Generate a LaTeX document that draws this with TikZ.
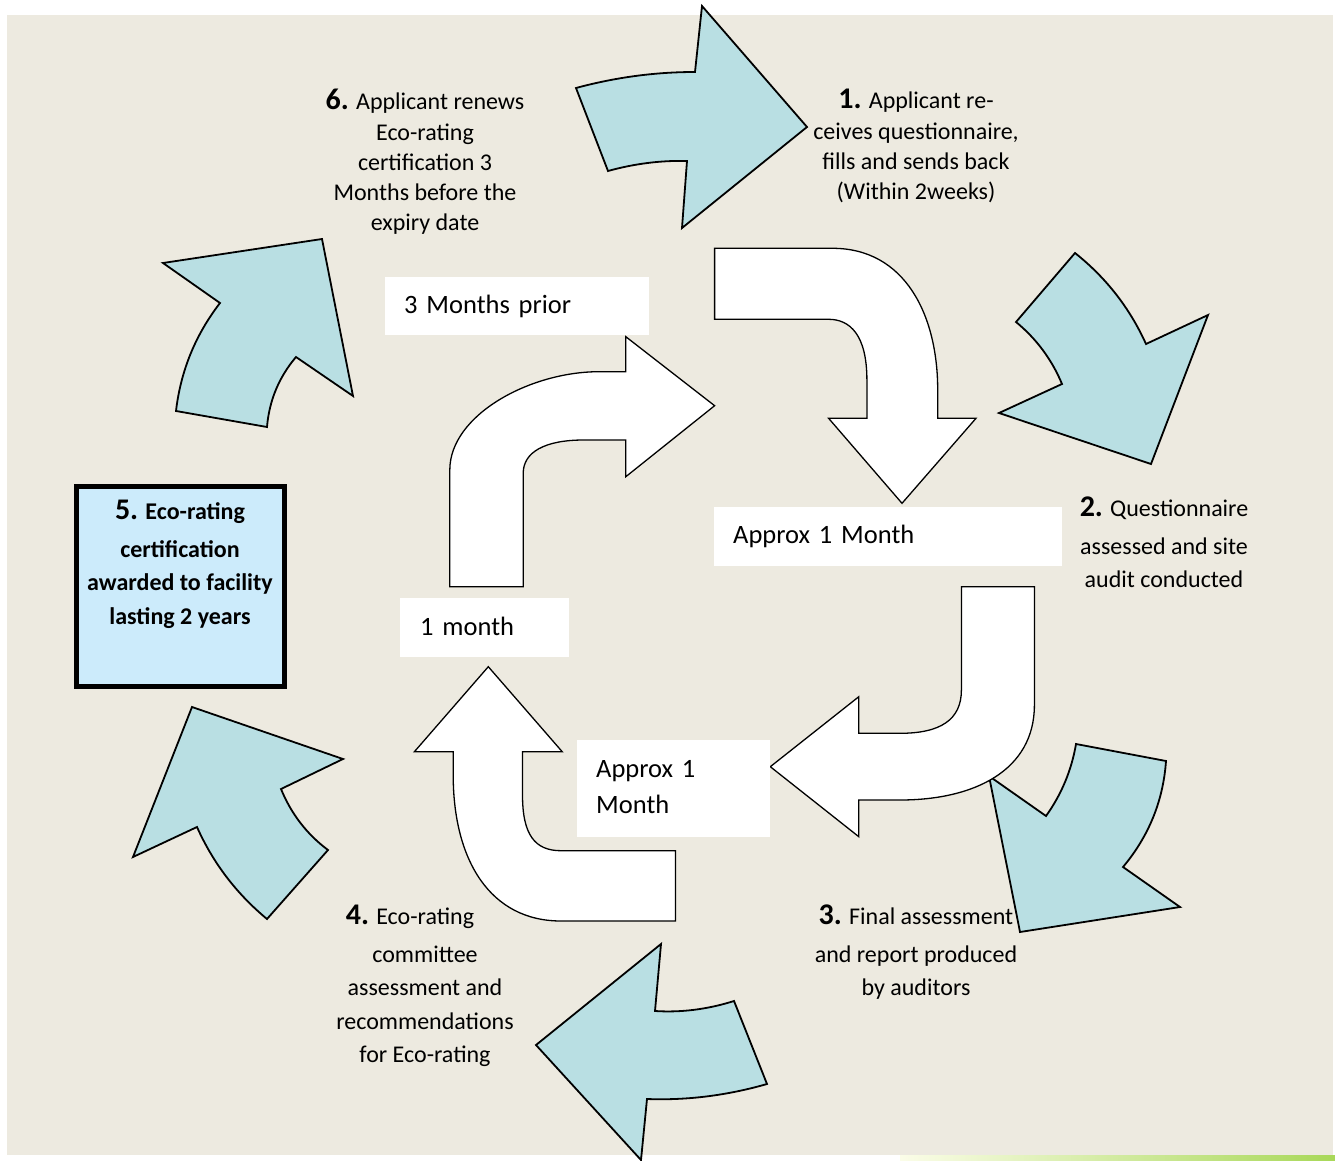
\documentclass[tikz,border=0pt]{standalone}
\usepackage{fontspec}
\setmainfont{Carlito}
\definecolor{bgbeige}{HTML}{EDEAE0}
\definecolor{arrowblue}{HTML}{B9DFE3}
\definecolor{boxblue}{HTML}{CCEBFB}
\definecolor{stripstart}{HTML}{FBFDE8}
\definecolor{stripend}{HTML}{A8D858}
\begin{document}
\begin{tikzpicture}[x=1pt,y=-1pt,
  bluearrow/.style={fill=arrowblue, draw=black, line width=1.8pt, line join=miter},
  whitearrow/.style={fill=white, draw=black, line width=1.3pt, line join=miter},
  labelbox/.style={fill=white, anchor=north west, align=left, inner ysep=0pt, font=\fontsize{26.5}{36}\selectfont},
  steptext/.style={align=center, inner sep=0pt, anchor=north, font=\fontsize{24}{30}\selectfont},
  steptextlow/.style={align=center, inner sep=0pt, anchor=north, font=\fontsize{24}{33.5}\selectfont}]
\useasboundingbox (0,0) rectangle (1335,1161);
% background
\fill[white] (0,0) rectangle (1335,1161);
\fill[bgbeige] (7,15) rectangle (1333,1155);
\fill[left color=stripstart, right color=stripend] (900,1155) rectangle (1335,1161);

% blue curved arrows
\path[bluearrow] (576,88) .. controls (615.2,77.4) and (654.8,72.0) .. (695,72) -- (702,6) -- (807,127) -- (682,228) -- (687,161) .. controls (660.7,160.3) and (634.3,163.7) .. (608,171) -- cycle;
\path[bluearrow] (1075,253) .. controls (1106.2,277.8) and (1129.8,308.2) .. (1146,344) -- (1208,315) -- (1151,464) -- (999,413) -- (1062,384) .. controls (1051.7,359.3) and (1036.3,338.7) .. (1016,322) -- cycle;
\path[bluearrow] (1076,744) -- (1166,761) .. controls (1163.2,800.8) and (1148.8,836.2) .. (1123,867) -- (1180,907) -- (1020,932) -- (989,776) -- (1046,816) .. controls (1061.5,794.3) and (1071.5,770.3) .. (1076,744) -- cycle;
\path[bluearrow] (734,1001) -- (767,1084) .. controls (727,1095.5) and (687,1100.5) .. (647,1099) -- (641,1160) -- (536,1045) -- (661,944) -- (655,1011) .. controls (681.3,1012.7) and (707.7,1009.3) .. (734,1001) -- cycle;
\path[bluearrow] (192,707) -- (343,759) -- (281,789) .. controls (291.2,813.8) and (306.8,834.2) .. (328,850) -- (267,919) .. controls (236.5,893.7) and (213.1,863.1) .. (197,827) -- (133,857) -- cycle;
\path[bluearrow] (163,263) -- (322,239) -- (353,396) -- (296,357) .. controls (278.8,377.3) and (269.2,400.7) .. (267,427) -- (176,411) .. controls (180.7,371) and (195.3,335) .. (220,303) -- cycle;

% white bent arrows
\path[whitearrow] (449.8,586.7) -- (449.8,470) .. controls (449.8,415) and (530,371.7) .. (599,371.7) -- (625.8,371.7) -- (625.8,336.7) -- (714.6,405.7) -- (625.8,476.7) -- (625.8,440) -- (583.7,440) .. controls (545,440) and (523.2,452) .. (523.2,473.3) -- (523.2,586.7) -- cycle;
\path[whitearrow] (714.6,248.3) -- (832.5,248.3) .. controls (905,248.3) and (937.7,315) .. (937.7,390) -- (937.7,418.3) -- (976,418.3) -- (902,503.3) -- (828.6,418.3) -- (866.9,418.3) -- (866.9,380) .. controls (866.9,335) and (850,319.3) .. (828.6,319.3) -- (714.6,319.3) -- cycle;
\path[whitearrow] (961.4,586.7) -- (1034.4,586.7) -- (1034.4,705) .. controls (1034.4,770) and (975,800) .. (900,800) -- (858.8,800) -- (858.8,836.7) -- (770.3,766.7) -- (858.8,696.7) -- (858.8,733.3) -- (900,733.3) .. controls (940,733.3) and (961.4,720) .. (961.4,690) -- cycle;
\path[whitearrow] (675.5,921) -- (675.5,850.7) -- (561,850.7) .. controls (535,850.7) and (522.5,835) .. (522.5,795) -- (522.5,751.7) -- (562.2,751.7) -- (488.3,666.7) -- (414.4,751.7) -- (453.2,751.7) -- (453.2,775) .. controls (453.2,860) and (490,921) .. (561,921) -- cycle;

% white label boxes
\node[labelbox, minimum width=264pt, minimum height=58pt, text width=226pt, inner xsep=19pt] (lbprior) at (385,277) {\raisebox{2pt}{3 Months prior}};
\node[labelbox, minimum width=348pt, minimum height=59pt, text width=310pt, inner xsep=19pt] (lbmonthA) at (714,507) {\raisebox{2pt}{Approx 1 Month}};
\node[labelbox, minimum width=169pt, minimum height=59pt, text width=129pt, inner xsep=20pt] (lbmonth) at (400,598) {\raisebox{3pt}{1 month}};
\node[labelbox, minimum width=193pt, minimum height=97pt, text width=155pt, inner xsep=19pt] (lbmonthB) at (577,740) {\raisebox{3pt}{Approx 1}\\\raisebox{3pt}{Month}};

% step texts
\node[steptext] (s6) at (425,89) {{\bfseries\fontsize{30}{30}\selectfont 6.} Applicant renews\\[1pt]Eco-rating\\certification 3\\Months before the\\expiry date};
\node[steptext] (s1) at (916,89) {{\bfseries\fontsize{30}{30}\selectfont 1.} Applicant re-\\[1pt]ceives questionnaire,\\fills and sends back\\(Within 2weeks)};
\node[steptextlow] (s2) at (1164,497) {{\bfseries\fontsize{30}{30}\selectfont 2.} Questionnaire\\[4pt]assessed and site\\audit conducted};
\node[steptextlow] (s3) at (916,905) {{\bfseries\fontsize{30}{30}\selectfont 3.} Final assessment\\[4pt]and report produced\\by auditors};
\node[steptextlow] (s4) at (425,905) {{\bfseries\fontsize{30}{30}\selectfont 4.} Eco-rating\hspace*{30pt}\\[4pt]committee\\assessment and\\recommendations\\for Eco-rating};

% step 5 box
\node[draw=black, line width=5pt, fill=boxblue, minimum width=208pt, minimum height=200pt, inner sep=0pt] (box5) at (180.5,586.5) {};
\node[steptextlow, font=\bfseries\fontsize{24}{33.5}\selectfont] (s5) at (180,500) {{\fontsize{30}{30}\selectfont 5.} Eco-rating\\[4pt]certification\\awarded to facility\\lasting 2 years};
\end{tikzpicture}
\end{document}
